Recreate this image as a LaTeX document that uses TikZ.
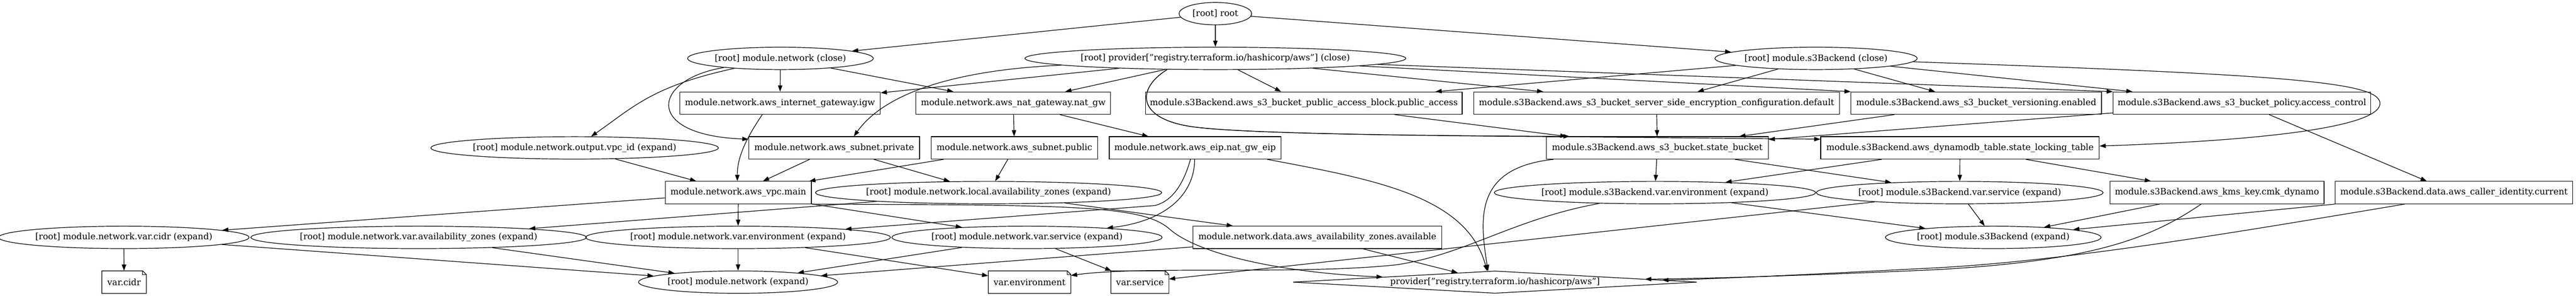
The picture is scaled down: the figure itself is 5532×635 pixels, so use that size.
\documentclass[tikz,border=0pt]{standalone}
\usepackage{fontspec}
\setmainfont{DejaVu Serif}
\usetikzlibrary{calc,arrows.meta,shapes.geometric}
\tikzset{
  ell/.style={draw, ellipse, inner sep=0pt, minimum height=36pt, line width=1pt},
  box/.style={draw, rectangle, inner sep=0pt, minimum height=36pt, line width=1pt},
  notebox/.style={rectangle, inner sep=0pt, minimum height=36pt},
  dia/.style={draw, diamond, shape aspect=18, inner sep=0pt, minimum height=36pt, line width=1pt},
  e/.style={draw, line width=1pt, -{Triangle[length=10pt,width=7pt]}},
}
\begin{document}
\begin{tikzpicture}[x=0.75pt, y=-0.75pt, every node/.append style={font=\fontsize{14pt}{16pt}\selectfont}]
\path[use as bounding box, fill=white] (0,0) rectangle (5532,635);
% rank 0
\node[ell, minimum width=117pt] (root) at (2610,29.3) {[root] root};
% rank 1
\node[ell, minimum width=295.5pt] (netclose) at (1676,125.3) {[root] module.network (close)};
\node[ell, minimum width=582.75pt] (provclose) at (2610,125.3) {[root] provider["registry.terraform.io/hashicorp/aws"] (close)};
\node[ell, minimum width=318.75pt] (s3close) at (3900,125.3) {[root] module.s3Backend (close)};
% rank 2
\node[box, minimum width=323.25pt] (igw) at (1675,221.3) {module.network.aws\_internet\_gateway.igw};
\node[box, minimum width=313.5pt] (natgw) at (2176,221.3) {module.network.aws\_nat\_gateway.nat\_gw};
\node[box, minimum width=510pt] (pab) at (2800,221.3) {module.s3Backend.aws\_s3\_bucket\_public\_access\_block.public\_access};
\node[box, minimum width=588.75pt] (sse) at (3557.5,221.3) {module.s3Backend.aws\_s3\_bucket\_server\_side\_encryption\_configuration.default};
\node[box, minimum width=403.5pt] (ver) at (4244,221.3) {module.s3Backend.aws\_s3\_bucket\_versioning.enabled};
\node[box, minimum width=414.75pt] (pol) at (4814.5,221.3) {module.s3Backend.aws\_s3\_bucket\_policy.access\_control};
% rank 3
\node[ell, minimum width=447pt] (vpcid) at (1234,317.3) {[root] module.network.output.vpc\_id (expand)};
\node[box, minimum width=275.25pt] (subpriv) at (1791.5,317.3) {module.network.aws\_subnet.private};
\node[box, minimum width=267.75pt] (subpub) at (2178.5,317.3) {module.network.aws\_subnet.public};
\node[box, minimum width=276.75pt] (eip) at (2566.5,317.3) {module.network.aws\_eip.nat\_gw\_eip};
\node[box, minimum width=357.75pt] (sb) at (3559,317.3) {module.s3Backend.aws\_s3\_bucket.state\_bucket};
\node[box, minimum width=448.5pt] (dyn) at (4209,317.3) {module.s3Backend.aws\_dynamodb\_table.state\_locking\_table};
% rank 4
\node[box, minimum width=235.5pt] (vpc) at (1585.5,413.3) {module.network.aws\_vpc.main};
\node[ell, minimum width=534pt] (localaz) at (2123,413.3) {[root] module.network.local.availability\_zones (expand)};
\node[ell, minimum width=498pt] (s3env) at (3554,413.3) {[root] module.s3Backend.var.environment (expand)};
\node[ell, minimum width=447.75pt] (s3svc) at (4208.5,413.3) {[root] module.s3Backend.var.service (expand)};
\node[box, minimum width=345pt] (kms) at (4761,413.3) {module.s3Backend.aws\_kms\_key.cmk\_dynamo};
\node[box, minimum width=382.5pt] (caller) at (5270,413.3) {module.s3Backend.data.aws\_caller\_identity.current};
% rank 5
\node[ell, minimum width=392.25pt] (cidr) at (266,509.3) {[root] module.network.var.cidr (expand)};
\node[ell, minimum width=519.75pt] (varaz) at (899,509.3) {[root] module.network.var.availability\_zones (expand)};
\node[ell, minimum width=476.25pt] (netenv) at (1585,509.3) {[root] module.network.var.environment (expand)};
\node[ell, minimum width=422.25pt] (netsvc) at (2205.5,509.3) {[root] module.network.var.service (expand)};
\node[box, minimum width=400.5pt] (dataaz) at (2829,509.3) {module.network.data.aws\_availability\_zones.available};
\node[ell, minimum width=339.75pt] (s3exp) at (4280.5,509.3) {[root] module.s3Backend (expand)};
% rank 6
\node[notebox, minimum width=71.25pt] (cidrnote) at (266.5,605.3) {var.cidr};
\node[ell, minimum width=315pt] (netexp) at (1585,605.3) {[root] module.network (expand)};
\node[notebox, minimum width=132.75pt] (envnote) at (2211,605.3) {var.environment};
\node[notebox, minimum width=93pt] (svcnote) at (2448,605.3) {var.service};
\node[dia, minimum width=650.25pt] (prov) at (3210.5,605.3) {provider["registry.terraform.io/hashicorp/aws"]};
% note outlines
\foreach \n in {cidrnote,envnote,svcnote}{
  \draw[line width=1pt] (\n.south west) -- (\n.north west) -- ($(\n.north east)+(-8,0)$) -- ($(\n.north east)+(0,8)$) -- (\n.south east) -- cycle;
  \draw[line width=1pt] ($(\n.north east)+(-8,0)$) -- ($(\n.north east)+(-8,8)$) -- ($(\n.north east)+(0,8)$);
}
% edges from root
\draw[e] (root) -- (netclose);
\draw[e] (root) -- (provclose);
\draw[e] (root) -- (s3close);
% network close
\draw[e] (netclose) -- (igw);
\draw[e] (netclose) -- (natgw);
\draw[e] (netclose) .. controls (1400,170) and (1380,290) .. ($(subpriv.north west)+(0,6)$);
\draw[e] (netclose) .. controls (1400,185) and (1360,230) .. (vpcid);
% provider close
\draw[e] (provclose) -- (igw);
\draw[e] (provclose) -- (natgw);
\draw[e] (provclose) .. controls (2050,150) and (1900,200) .. ($(subpriv.north)+(42,0)$);
\draw[e] (provclose) -- (pab);
\draw[e] (provclose.193) .. controls (2440,190) and (2440,255) .. (2561,272) .. controls (2661,286) and (3000,291) .. ($(sb.north west)+(51,0)$);
\draw[e] (provclose.193) .. controls (2440,190) and (2440,255) .. (2561,272) .. controls (2661,286) and (3000,291) .. (3371,293.5) -- ($(dyn.north west)+(0,6)$);
\draw[e] (provclose) -- (sse);
\draw[e] (provclose) -- (ver.north west);
\draw[e] (provclose) -- (pol.north west);
% s3 close
\draw[e] (s3close) -- (pab);
\draw[e] (s3close) -- (sse);
\draw[e] (s3close) -- (ver);
\draw[e] (s3close) -- (pol);
\draw[e] (s3close.-2) .. controls (4900,160) and (5110,175) .. (5111,221.5) .. controls (5112,268) and (4900,300) .. ($(dyn.east)+(0,-4)$);
% rank 2 -> 3
\draw[e] ($(igw.south)+(-38,0)$) .. controls (1600,300) and (1583,340) .. ($(vpc.north)+(-2,0)$);
\draw[e] (natgw) -- (subpub);
\draw[e] (natgw) -- (eip);
\draw[e] (pab) -- (sb);
\draw[e] (sse) -- (sb);
\draw[e] (ver) -- (sb);
\draw[e] (pol) -- (sb);
\draw[e] (pol) -- (caller);
% rank 3 -> 4
\draw[e] (vpcid) -- (vpc);
\draw[e] (subpriv) -- (vpc);
\draw[e] (subpriv) -- (localaz);
\draw[e] (subpub) -- (vpc);
\draw[e] (subpub) -- (localaz);
\draw[e] ($(eip.south)+(-10,0)$) .. controls (2540,400) and (2515,432) .. (2480,441) -- (netenv);
\draw[e] ($(eip.south)+(-1,0)$) .. controls (2565,420) and (2500,475) .. (netsvc);
\draw[e] ($(eip.south east)+(-30,0)$) .. controls (2950,385) and (3150,420) .. ($(prov.north)+(-17,1)$);
\draw[e] (sb) -- (s3env);
\draw[e] (sb) -- (s3svc);
\draw[e] ($(sb.south west)+(16,0)$) .. controls (3165,360) and (3178,470) .. ($(prov.north)+(-15,1)$);
\draw[e] (dyn) -- (s3env);
\draw[e] (dyn) -- (s3svc);
\draw[e] (dyn) -- (kms);
% rank 4 -> 5
\draw[e] (vpc) -- (cidr);
\draw[e] (vpc) -- (netenv);
\draw[e] (vpc) -- (netsvc);
\draw[e] (vpc.south east) .. controls (2300,440) and (2450,440) .. (2510,490) .. controls (2570,545) and (2750,585) .. ($(prov.west)+(193,-11)$);
\draw[e] (localaz) -- (varaz);
\draw[e] (localaz) -- (dataaz);
\draw[e] (s3env) -- (s3exp);
\draw[e] (s3env.191) .. controls (3250,470) and (3150,545) .. (3000,568) .. controls (2800,590) and (2450,570) .. ($(envnote.north east)+(0,10)$);
\draw[e] (s3svc) -- (s3exp);
\draw[e] (s3svc) -- (svcnote);
\draw[e] (kms) -- (s3exp);
\draw[e] ($(kms.south)+(-34,0)$) .. controls (4620,510) and (4500,560) .. (4150,579) .. controls (3900,590) and (3700,597) .. ($(prov.east)+(-112,-6.3)$);
\draw[e] (caller) -- (s3exp);
\draw[e] ($(caller.south)+(-106,0)$) .. controls (4850,490) and (4450,560) .. (4150,575) .. controls (3900,588) and (3700,598) .. ($(prov.east)+(-75,-4.2)$);
% rank 5 -> 6
\draw[e] (cidr) -- (cidrnote);
\draw[e] (cidr) -- (netexp);
\draw[e] (varaz) -- (netexp);
\draw[e] (netenv) -- (netexp);
\draw[e] (netenv) -- (envnote);
\draw[e] (netsvc) -- (netexp);
\draw[e] (netsvc) -- (svcnote);
\draw[e] (dataaz) -- (netexp);
\draw[e] (dataaz) -- (prov);
\end{tikzpicture}
\end{document}
